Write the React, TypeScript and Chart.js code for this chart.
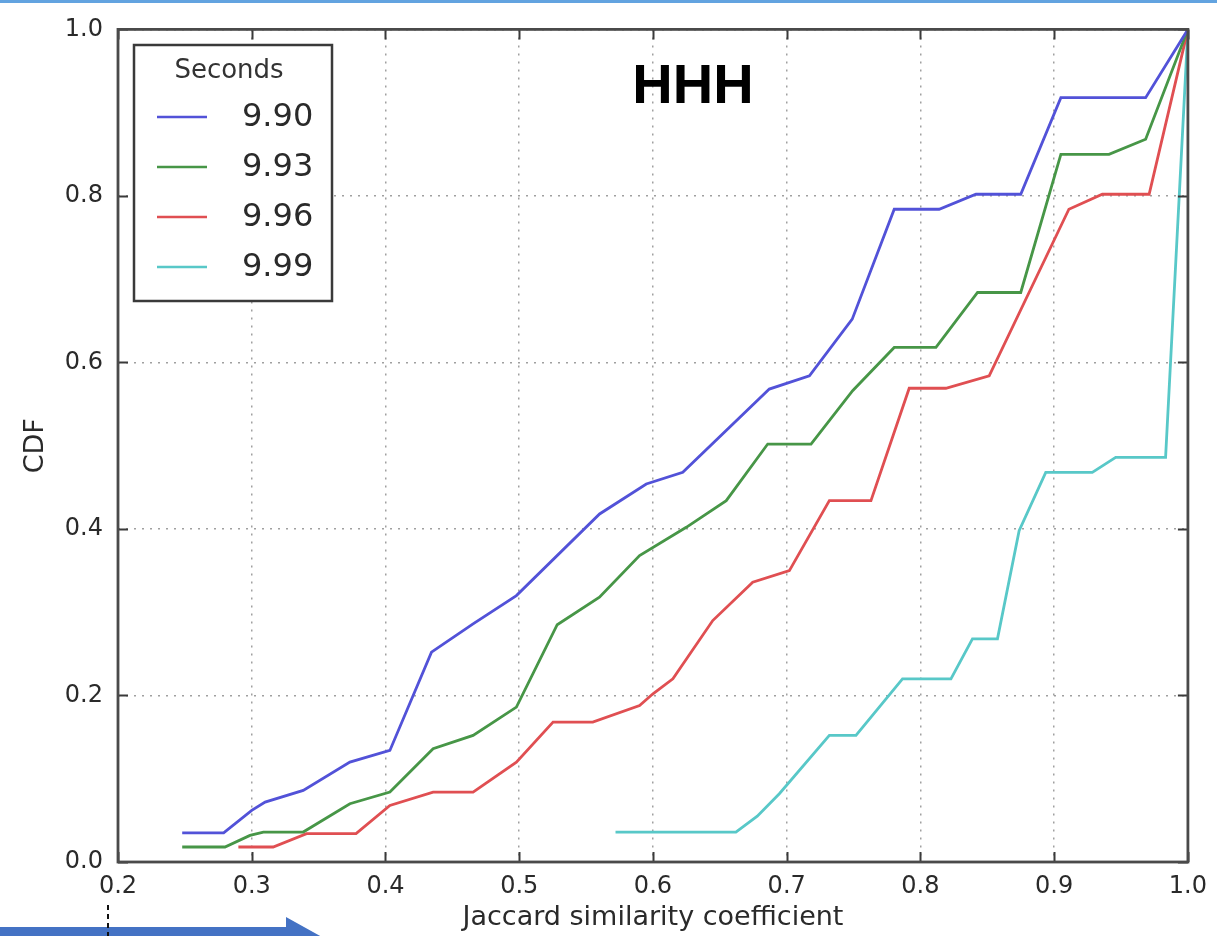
import React, { useEffect, useRef } from "react";
import { Chart, registerables } from "chart.js";

Chart.register(...registerables);

// ---- data ----
const seriesLabels = ["9.90", "9.93", "9.96", "9.99"];
const seriesColors = ["#5252d8", "#479647", "#e04f52", "#58c8c8"];

const x990 = [0.248, 0.279, 0.3, 0.31, 0.3385, 0.3734, 0.4033, 0.4344, 0.4655, 0.4979, 0.5601, 0.595, 0.6223, 0.687, 0.717, 0.749, 0.7804, 0.814, 0.8415, 0.875, 0.905, 0.9684, 1.0];
const y990 = [0.035, 0.035, 0.062, 0.072, 0.086, 0.12, 0.134, 0.252, 0.286, 0.32, 0.418, 0.454, 0.468, 0.568, 0.584, 0.652, 0.784, 0.784, 0.802, 0.802, 0.918, 0.918, 1.0];

const x993 = [0.248, 0.28, 0.2987, 0.3087, 0.3385, 0.3734, 0.4033, 0.4356, 0.4655, 0.4979, 0.5284, 0.56, 0.59, 0.6249, 0.6548, 0.6858, 0.7182, 0.7493, 0.7804, 0.8116, 0.8427, 0.875, 0.905, 0.941, 0.9684, 1.0];
const y993 = [0.018, 0.018, 0.032, 0.036, 0.036, 0.07, 0.084, 0.136, 0.152, 0.186, 0.285, 0.318, 0.368, 0.402, 0.434, 0.502, 0.502, 0.566, 0.618, 0.618, 0.684, 0.684, 0.85, 0.85, 0.868, 1.0];

const x996 = [0.29, 0.316, 0.341, 0.378, 0.4033, 0.4356, 0.4655, 0.4979, 0.5253, 0.555, 0.59, 0.6, 0.6149, 0.6447, 0.6746, 0.702, 0.7319, 0.763, 0.7916, 0.819, 0.8514, 0.911, 0.936, 0.971, 1.0];
const y996 = [0.018, 0.018, 0.034, 0.034, 0.068, 0.084, 0.084, 0.12, 0.168, 0.168, 0.188, 0.202, 0.22, 0.29, 0.336, 0.35, 0.434, 0.434, 0.569, 0.569, 0.584, 0.784, 0.802, 0.802, 1.0];

const x999 = [0.572, 0.662, 0.678, 0.6945, 0.7319, 0.7518, 0.7866, 0.8228, 0.8389, 0.8576, 0.8738, 0.8937, 0.9285, 0.946, 0.9833, 1.0];
const y999 = [0.036, 0.036, 0.055, 0.082, 0.152, 0.152, 0.22, 0.22, 0.268, 0.268, 0.398, 0.468, 0.468, 0.486, 0.486, 1.0];

const seriesX = [x990, x993, x996, x999];
const seriesY = [y990, y993, y996, y999];

const xMin = 0.2;
const xMax = 1.0;
const xStep = 0.1;
const yMin = 0;
const yMax = 1.0;
const yStep = 0.2;

const xTitle = "Jaccard similarity coefficient";
const yTitle = "CDF";
const legendTitle = "Seconds";
const chartTitle = "HHH";

const FONT = "'DejaVu Sans', sans-serif";
const TEXT = "#2a2a2a";

const decorPlugin = {
  id: "decor",
  afterDraw(chart: any) {
    const ctx = chart.ctx as CanvasRenderingContext2D;
    const a = chart.chartArea;
    const xs = chart.scales.x;
    const ys = chart.scales.y;
    ctx.save();

    // inner tick marks on all four sides
    ctx.strokeStyle = "#3a3a3a";
    ctx.lineWidth = 2;
    const tl = 10;
    xs.ticks.forEach((t: any) => {
      const px = Math.round(xs.getPixelForValue(t.value)) + 0.5;
      ctx.beginPath();
      ctx.moveTo(px, a.bottom);
      ctx.lineTo(px, a.bottom - tl);
      ctx.moveTo(px, a.top);
      ctx.lineTo(px, a.top + tl);
      ctx.stroke();
    });
    ys.ticks.forEach((t: any) => {
      const py = Math.round(ys.getPixelForValue(t.value)) + 0.5;
      ctx.beginPath();
      ctx.moveTo(a.left, py);
      ctx.lineTo(a.left + tl, py);
      ctx.moveTo(a.right, py);
      ctx.lineTo(a.right - tl, py);
      ctx.stroke();
    });

    // axes frame
    ctx.strokeStyle = "#4a4a4a";
    ctx.lineWidth = 2.8;
    ctx.strokeRect(a.left, a.top, a.right - a.left, a.bottom - a.top);

    // legend box
    const lx = 134, ly = 45, lw = 198, lh = 256;
    ctx.fillStyle = "#ffffff";
    ctx.fillRect(lx, ly, lw, lh);
    ctx.strokeStyle = "#3a3a3a";
    ctx.lineWidth = 2.5;
    ctx.strokeRect(lx, ly, lw, lh);
    ctx.fillStyle = "#333333";
    ctx.font = `26px ${FONT}`;
    ctx.textAlign = "center";
    ctx.textBaseline = "middle";
    ctx.fillText(legendTitle, lx + lw / 2 - 4, 71);
    chart.data.datasets.forEach((ds: any, i: number) => {
      const cy = 117 + i * 50;
      ctx.strokeStyle = ds.borderColor;
      ctx.lineWidth = 2.5;
      ctx.beginPath();
      ctx.moveTo(157, cy);
      ctx.lineTo(207, cy);
      ctx.stroke();
      ctx.fillStyle = TEXT;
      ctx.font = `32px ${FONT}`;
      ctx.textAlign = "left";
      ctx.fillText(ds.label, 242, cy + 1);
    });

    // chart title
    ctx.fillStyle = "#000000";
    ctx.font = `bold 56px 'Liberation Sans', Arial, sans-serif`;
    ctx.textAlign = "center";
    ctx.textBaseline = "alphabetic";
    ctx.fillText(chartTitle, 693, 103);

    // top light-blue stripe
    ctx.fillStyle = "#62a3e0";
    ctx.fillRect(0, 0, chart.width, 3);

    // blue arrow at bottom left
    ctx.fillStyle = "#4472c4";
    ctx.beginPath();
    ctx.moveTo(0, 927);
    ctx.lineTo(286, 927);
    ctx.lineTo(286, 917);
    ctx.lineTo(322, 937);
    ctx.lineTo(286, 957);
    ctx.lineTo(286, 947);
    ctx.lineTo(0, 947);
    ctx.closePath();
    ctx.fill();

    // dashed marker below 0.2
    ctx.strokeStyle = "#111111";
    ctx.lineWidth = 2;
    ctx.setLineDash([5, 4]);
    ctx.beginPath();
    ctx.moveTo(108, 905);
    ctx.lineTo(108, 936);
    ctx.stroke();
    ctx.setLineDash([]);

    ctx.restore();
  },
};

export default function App() {
  const ref = useRef<HTMLCanvasElement>(null);

  useEffect(() => {
    if (!ref.current) return;
    const datasets = seriesLabels.map((label, i) => ({
      label,
      data: seriesX[i].map((x, j) => ({ x, y: seriesY[i][j] })),
      borderColor: seriesColors[i],
      backgroundColor: seriesColors[i],
      borderWidth: 2.8,
      pointRadius: 0,
      tension: 0,
      fill: false,
    }));

    const chart = new Chart(ref.current, {
      type: "line",
      data: { datasets },
      options: {
        animation: false,
        responsive: false,
        devicePixelRatio: 1,
        layout: { padding: { top: 29, right: 27, left: 0, bottom: 0 } },
        plugins: {
          legend: { display: false },
          title: { display: false },
          tooltip: { enabled: false },
        },
        scales: {
          x: {
            type: "linear",
            min: xMin,
            max: xMax,
            ticks: {
              stepSize: xStep,
              callback: (v: any) => Number(v).toFixed(1),
              font: { family: FONT, size: 24 },
              color: TEXT,
              padding: 10,
              maxRotation: 0,
              autoSkip: false,
            },
            grid: { color: "rgba(120,120,120,0.7)", lineWidth: 1.5, drawTicks: false },
            border: { display: false, dash: [2, 6] },
            title: {
              display: true,
              text: xTitle,
              font: { family: FONT, size: 27 },
              color: TEXT,
              padding: { top: 0, bottom: 2 },
            },
            afterFit: (s: any) => {
              s.height = 74;
            },
          },
          y: {
            type: "linear",
            min: yMin,
            max: yMax,
            ticks: {
              stepSize: yStep,
              callback: (v: any) => Number(v).toFixed(1),
              font: { family: FONT, size: 24 },
              color: TEXT,
              padding: 15,
            },
            grid: { color: "rgba(120,120,120,0.7)", lineWidth: 1.5, drawTicks: false },
            border: { display: false, dash: [2, 6] },
            title: {
              display: true,
              text: yTitle,
              font: { family: FONT, size: 27 },
              color: TEXT,
              padding: { top: 20, bottom: 0 },
            },
            afterFit: (s: any) => {
              s.width = 118;
            },
          },
        },
      },
      plugins: [decorPlugin],
    });
    return () => chart.destroy();
  }, []);

  return (
    <div style={{ position: "absolute", left: 0, top: 0, width: 1217, height: 936, background: "#ffffff" }}>
      <canvas ref={ref} width={1217} height={936} style={{ display: "block" }} />
    </div>
  );
}
